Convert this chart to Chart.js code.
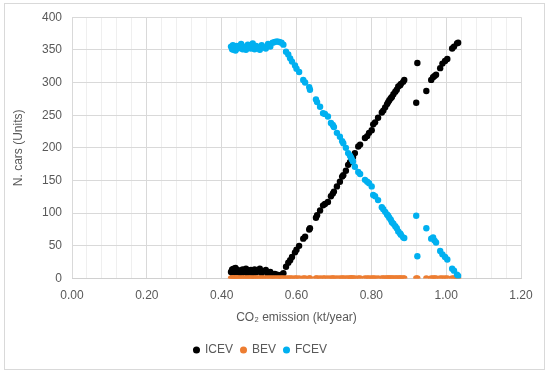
<!DOCTYPE html>
<html><head><meta charset="utf-8">
<script src="https://cdn.jsdelivr.net/npm/chart.js@4.4.0/dist/chart.umd.min.js"></script>
<style>
html,body{margin:0;padding:0;background:#fff;width:550px;height:375px;overflow:hidden}
canvas{position:absolute;left:0;top:0}
#frame{position:absolute;left:4px;top:3px;width:541px;height:367px;border:1px solid #d9d9d9;box-sizing:border-box;pointer-events:none}
</style></head>
<body>
<canvas id="c" width="550" height="375"></canvas>
<div id="frame"></div>
<script>
// CO2 emission (kt/year) of each scenario, shared by the three series
const emission = [
  0.425,0.428,0.430,0.432,0.435,0.437,0.440,0.443,0.447,0.452,0.456,0.460,0.465,0.470,0.474,0.478,
  0.483,0.488,0.492,0.497,0.502,0.507,0.512,0.518,0.524,0.530,0.536,0.542,0.548,0.554,0.560,0.565,
  0.572,0.578,0.583,0.588,0.596,0.600,0.607,0.618,0.623,0.634,0.636,0.652,0.655,0.663,0.671,0.676,
  0.684,0.692,0.697,0.700,0.708,0.716,0.722,0.725,0.732,0.738,0.743,0.746,0.748,0.751,0.756,0.765,
  0.770,0.783,0.789,0.794,0.801,0.805,0.810,0.818,0.828,0.832,0.837,0.842,0.845,0.848,0.852,0.855,
  0.859,0.864,0.868,0.872,0.877,0.879,0.885,0.888,0.920,0.923,0.947,0.960,0.965,0.969,0.973,0.984,
  0.990,0.997,1.003,1.016,1.021,1.029,1.032
];
const icev = [
  10,14,8,15,12,16,9,13,11,6,14,10,15,7,12,13,
  5,14,9,12,15,8,11,13,6,10,5,7,6,5,6,8,
  18,24,28,33,40,44,50,61,64,75,77,93,97,104,112,114,
  117,126,130,133,141,148,156,158,165,174,178,181,183,186,192,202,
  205,215,218,223,227,236,239,246,254,257,262,267,270,273,276,278,
  282,286,289,294,296,298,301,304,269,330,287,304,308,310,312,322,
  329,333,336,352,355,360,361
];
const bev = [
  0,0,0,0,0,0,0,0,0,0,0,0,0,0,0,0,
  0,0,0,0,0,0,0,0,0,0,0,0,0,0,0,0,
  0,0,0,0,0,0,0,0,0,0,0,0,0,0,0,0,
  0,0,0,0,0,0,0,0,0,0,0,0,0,0,0,0,
  0,0,0,0,0,0,0,0,0,0,0,0,0,0,0,0,
  0,0,0,0,0,0,0,0,0,0,0,0,0,0,0,0,
  0,0,0,0,0,0,0
];
const fcev = [
  355,351,357,350,353,349,356,352,354,359,351,355,350,358,353,352,
  360,351,356,353,350,357,354,352,359,355,361,362,363,362,361,358,
  347,343,337,332,326,321,316,304,300,293,289,274,270,263,253,252,
  248,238,235,232,223,217,210,207,200,192,188,185,182,179,171,163,
  160,151,148,146,141,128,126,120,109,106,102,98,96,93,90,86,
  84,80,77,72,69,67,63,62,96,34,77,61,63,58,55,42,
  37,33,29,15,12,6,4
];
const xTickLabels = ['0.00','0.20','0.40','0.60','0.80','1.00','1.20'];
const yTickValues = [0,50,100,150,200,250,300,350,400];

const pts = arr => emission.map((x, i) => ({x, y: arr[i]}));
const isMajor = v => Math.abs(v / 0.2 - Math.round(v / 0.2)) < 1e-6;
const txt = '#595959';
const font = {family: 'Liberation Sans', size: 12};

new Chart(document.getElementById('c'), {
  type: 'scatter',
  data: {
    datasets: [
      {label: 'ICEV', data: pts(icev), backgroundColor: '#000000', borderWidth: 0, pointRadius: 3.2, order: 3},
      {label: 'BEV', data: pts(bev), backgroundColor: '#ED7D31', borderWidth: 0, pointRadius: 3.2, order: 2},
      {label: 'FCEV', data: pts(fcev), backgroundColor: '#00B0F0', borderWidth: 0, pointRadius: 3.2, order: 1}
    ]
  },
  options: {
    responsive: false,
    animation: false,
    devicePixelRatio: 1,
    layout: {padding: {left: 0, right: 29, top: 17, bottom: 9}},
    plugins: {
      tooltip: {enabled: false},
      legend: {
        position: 'bottom',
        labels: {
          usePointStyle: true, pointStyle: 'circle', boxWidth: 5, boxHeight: 5,
          padding: 8, color: txt, font: font,
          sort: (a, b) => a.datasetIndex - b.datasetIndex
        }
      }
    },
    scales: {
      x: {
        type: 'linear', min: 0, max: 1.2,
        afterFit: s => { s.height = 57.5; },
        ticks: {
          stepSize: 0.04, autoSkip: false, maxRotation: 0, padding: 10, color: txt, font: font,
          callback: v => isMajor(v) ? xTickLabels[Math.round(v / 0.2)] : ''
        },
        grid: {
          drawTicks: false,
          color: c => (c.tick && isMajor(c.tick.value)) ? '#d9d9d9' : '#efefef',
          lineWidth: 1
        },
        border: {display: true, color: '#d0d0d0'},
        title: {display: true, text: 'CO₂ emission (kt/year)', color: txt, font: font, padding: {top: 0, bottom: 11}}
      },
      y: {
        min: 0, max: 400,
        afterFit: s => { s.width = 72; },
        afterBuildTicks: s => { s.ticks = yTickValues.map(v => ({value: v})); },
        ticks: {padding: 10, color: txt, font: font},
        grid: {drawTicks: false, color: '#d9d9d9'},
        border: {display: false},
        title: {display: true, text: 'N. cars (Units)', color: txt, font: font, padding: {top: 11, bottom: 0}}
      }
    }
  }
});
</script>
</body></html>
